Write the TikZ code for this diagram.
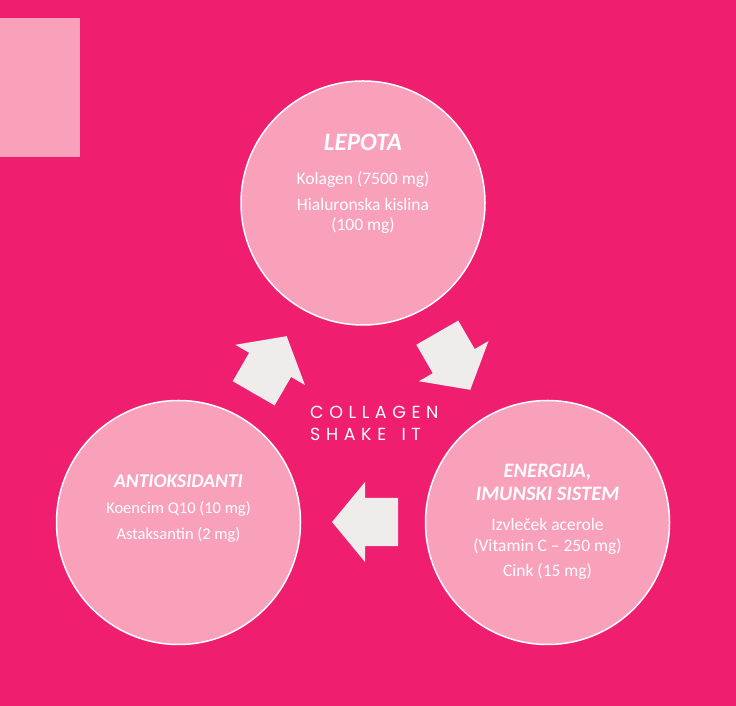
\documentclass[tikz,border=0pt]{standalone}
\usepackage{fontspec}
\setmainfont{Carlito}
\newfontfamily\shakefont[LetterSpace=32]{Poppins}
\usetikzlibrary{shapes.arrows,calc}
\definecolor{shakebg}{RGB}{240,30,110}
\definecolor{shakepink}{RGB}{249,161,186}
\definecolor{shakegrey}{RGB}{238,237,235}

\begin{document}
\begin{tikzpicture}[x=1pt, y=1pt,
  bubble/.style={circle, draw=white, line width=1.5pt, fill=shakepink, minimum size=244pt, inner sep=0pt},
  ttl/.style={anchor=base, text=white, inner sep=0pt, font=\bfseries\itshape\fontsize{#1}{#1}\selectfont},
  txt/.style={anchor=base, text=white, inner sep=0pt, font=\fontsize{#1}{#1}\selectfont},
  flow/.style={single arrow, fill=shakegrey, draw=none, inner sep=0pt, minimum height=66pt,
    single arrow head extend=16pt, single arrow tip angle=101},
  shake/.style={anchor=base west, text=white, inner sep=0pt, font=\shakefont\fontsize{17.5}{17.5}\selectfont}]
  \fill[shakebg] (0,0) rectangle (736,706);
  \fill[shakepink] (0,549) rectangle (80,688);
  \coordinate (mid) at (363,290);

  % circles
  \node[bubble] (lep) at (363,503) {};
  \node[bubble] (ant) at (178.5,183.5) {};
  \node[bubble] (ene) at (547.5,183.5) {};

  % arrows between circles
  \foreach \a/\r/\n in {150/60/toLep, 30/-60/toEne, 270/180/toAnt}
    \node[flow, rotate=\r] (\n) at ($(mid)+(\a:106)+(\r:-12)$) {\rule{0pt}{48pt}};

  % texts
  \node[ttl=25] (lepT) at ([yshift=52pt]lep.center) {LEPOTA};
  \foreach \t/\dy [count=\k] in {{Kolagen (7500 mg)}/18, {Hialuronska kislina}/-8, {(100 mg)}/-28}
    \node[txt=17.5] (lep\k) at ([yshift=\dy pt]lep.center) {\t};

  \node[ttl=19.5] (antT) at ([yshift=34.5pt]ant.center) {ANTIOKSIDANTI};
  \foreach \t/\dy [count=\k] in {{Koencim Q10 (10 mg)}/8.5, {Astaksantin (2 mg)}/-17.5}
    \node[txt=16.5] (ant\k) at ([yshift=\dy pt]ant.center) {\t};

  \node[ttl=20.5] (eneT) at ([yshift=44.5pt]ene.center) {ENERGIJA,};
  \node[ttl=20.5] (eneU) at ([yshift=21.5pt]ene.center) {IMUNSKI SISTEM};
  \foreach \t/\dy [count=\k] in {{Izvleček acerole}/-8.5, {(Vitamin C -- 250 mg)}/-29.5, {Cink (15 mg)}/-54.5}
    \node[txt=17.5] (ene\k) at ([yshift=\dy pt]ene.center) {\t};

  \node[shake] (shk1) at (310,287) {COLLAGEN};
  \node[shake] (shk2) at (310,265) {SHAKE\kern5pt\ IT};
\end{tikzpicture}
\end{document}
